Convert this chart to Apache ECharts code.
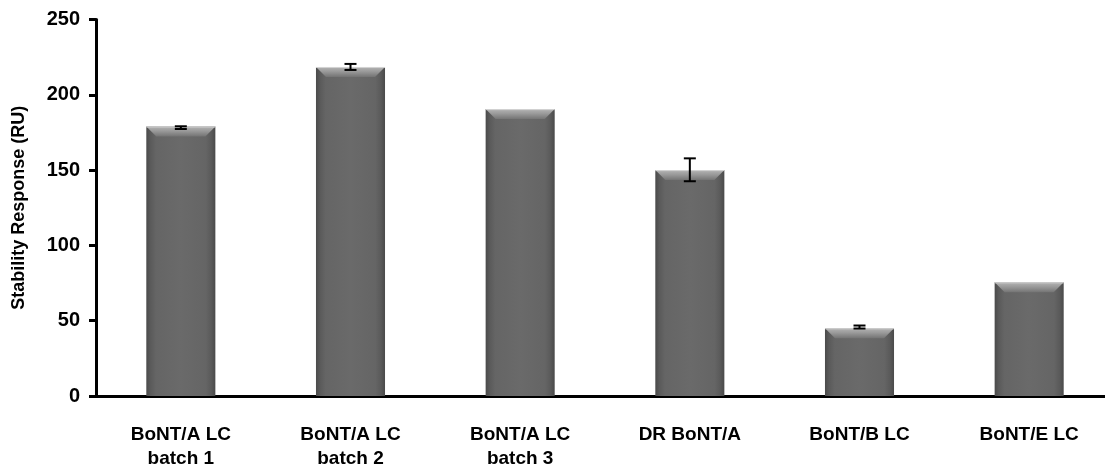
<!DOCTYPE html>
<html>
<head>
<meta charset="utf-8">
<style>
  html, body { margin: 0; padding: 0; background: #ffffff; }
  #chart { width: 1105px; height: 470px; }
</style>
<script src="https://cdn.jsdelivr.net/npm/echarts@6/dist/echarts.min.js"></script>
</head>
<body>
<div id="chart"></div>
<script>
// Stability response of each light-chain preparation (RU), with standard deviation
const categories = ['BoNT/A LC\nbatch 1', 'BoNT/A LC\nbatch 2', 'BoNT/A LC\nbatch 3', 'DR BoNT/A', 'BoNT/B LC', 'BoNT/E LC'];
const responses = [179, 218.5, 190.5, 150, 45, 75.5];
const errorCenters = [178.2, 218.5, null, 150.2, 45.8, null];
const errorSizes = [0.9, 2, null, 7.6, 1, null];
const yTicks = { min: 0, max: 250, step: 50 };

const FONT = '"Liberation Sans", Arial, sans-serif';

const barData = responses.map((v, i) => [i, v]);
const errData = [];
errorCenters.forEach((c, i) => {
  if (c != null) errData.push([i, c - errorSizes[i], c + errorSizes[i]]);
});

// Bevelled grey column: body with side shading plus a lighter chamfered top
function renderBar(params, api) {
  const idx = api.value(0);
  const top = api.coord([idx, api.value(1)]);
  const base = api.coord([idx, 0]);
  const w = api.size([1, 0])[0] * 0.407;
  const x0 = top[0] - w / 2, x1 = top[0] + w / 2;
  const y0 = top[1], y1 = base[1];
  const bevel = 10;
  return {
    type: 'group',
    children: [
      {
        type: 'rect',
        shape: { x: x0, y: y0, width: w, height: y1 - y0 },
        style: {
          fill: new echarts.graphic.LinearGradient(0, 0, 1, 0, [
            { offset: 0, color: '#4a4a4a' },
            { offset: 0.06, color: '#5a5a5a' },
            { offset: 0.14, color: '#656565' },
            { offset: 0.5, color: '#6a6a6a' },
            { offset: 0.86, color: '#656565' },
            { offset: 0.94, color: '#5a5a5a' },
            { offset: 1, color: '#4a4a4a' }
          ])
        }
      },
      {
        type: 'polygon',
        shape: { points: [[x0, y0], [x1, y0], [x1 - bevel, y0 + bevel], [x0 + bevel, y0 + bevel]] },
        style: {
          fill: new echarts.graphic.LinearGradient(0, 0, 0, 1, [
            { offset: 0, color: '#b4b4b4' },
            { offset: 0.45, color: '#9a9a9a' },
            { offset: 1, color: '#747474' }
          ])
        }
      },
      {
        type: 'line',
        shape: { x1: x0, y1: y0 + 0.5, x2: x1, y2: y0 + 0.5 },
        style: { stroke: '#d4d4d4', lineWidth: 1 }
      }
    ]
  };
}

// Error bar with horizontal caps
function renderError(params, api) {
  const idx = api.value(0);
  const lo = api.coord([idx, api.value(1)]);
  const hi = api.coord([idx, api.value(2)]);
  const cap = 6;
  const style = { stroke: '#000000', lineWidth: 2 };
  return {
    type: 'group',
    children: [
      { type: 'line', shape: { x1: lo[0], y1: lo[1], x2: hi[0], y2: hi[1] }, style },
      { type: 'line', shape: { x1: hi[0] - cap, y1: hi[1], x2: hi[0] + cap, y2: hi[1] }, style },
      { type: 'line', shape: { x1: lo[0] - cap, y1: lo[1], x2: lo[0] + cap, y2: lo[1] }, style }
    ]
  };
}

const chart = echarts.init(document.getElementById('chart'), null, { renderer: 'canvas' });
chart.setOption({
  animation: false,
  backgroundColor: '#ffffff',
  grid: { left: 96, top: 19.5, width: 1018, bottom: 74, containLabel: false, outerBoundsMode: 'none' },
  xAxis: {
    type: 'category',
    data: categories,
    boundaryGap: true,
    axisLine: { show: true, lineStyle: { color: '#000000', width: 3 } },
    axisTick: { show: false },
    axisLabel: {
      color: '#000000', fontFamily: FONT, fontWeight: 'bold', fontSize: 19,
      lineHeight: 24, margin: 27, interval: 0
    },
    splitLine: { show: false }
  },
  yAxis: {
    type: 'value',
    min: yTicks.min, max: yTicks.max, interval: yTicks.step,
    name: 'Stability Response (RU)',
    nameLocation: 'middle',
    nameGap: 68,
    nameTextStyle: { color: '#000000', fontFamily: FONT, fontWeight: 'bold', fontSize: 18 },
    axisLine: { show: true, lineStyle: { color: '#000000', width: 3 } },
    axisTick: { show: true, inside: false, length: 7, lineStyle: { color: '#000000', width: 3 } },
    axisLabel: { color: '#000000', fontFamily: FONT, fontWeight: 'bold', fontSize: 20, margin: 16 },
    splitLine: { show: false }
  },
  series: [
    {
      type: 'custom',
      renderItem: renderBar,
      encode: { x: 0, y: 1 },
      data: barData,
      z: 2
    },
    {
      type: 'custom',
      renderItem: renderError,
      encode: { x: 0, y: [1, 2] },
      data: errData,
      z: 3
    }
  ]
});
</script>
</body>
</html>
